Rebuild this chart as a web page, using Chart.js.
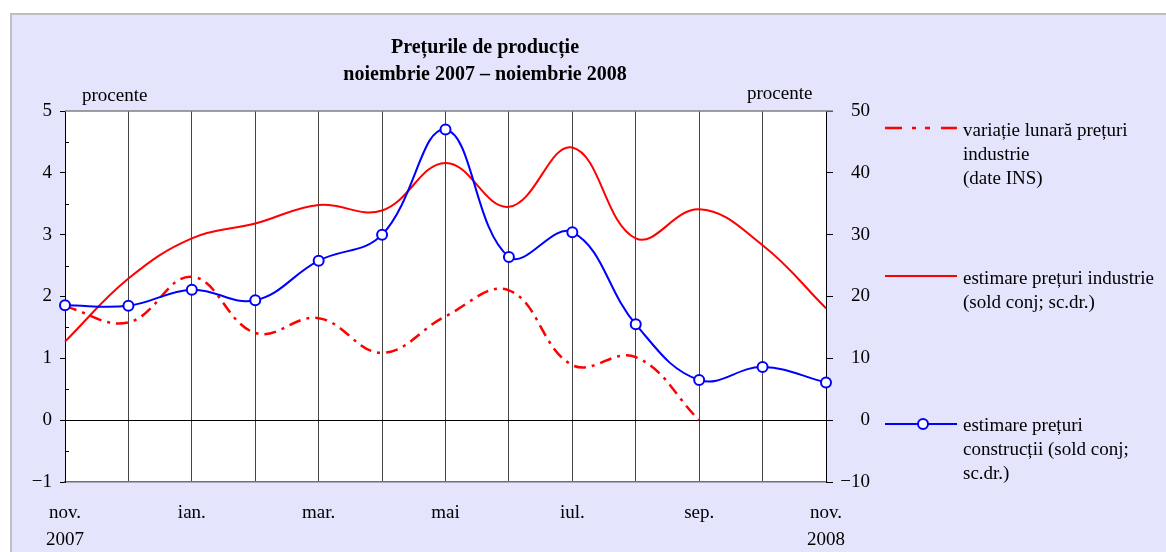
<!DOCTYPE html>
<html>
<head>
<meta charset="utf-8">
<script src="https://cdn.jsdelivr.net/npm/chart.js@4.4.0/dist/chart.umd.min.js"></script>
<style>
body { margin:0; width:1166px; height:552px; overflow:hidden; background:#fff; font-family:'Liberation Serif', 'Times New Roman', serif; }
#panel { position:absolute; left:10px; top:13px; right:0; bottom:0; background:#E4E4FC; border-left:2px solid #BEBEBE; border-top:2px solid #BEBEBE; }
#chart-box { position:absolute; left:0; top:0; width:1166px; height:552px; }
.txt { position:absolute; color:#000; font-size:19px; white-space:nowrap; }
#title { left:285px; width:400px; top:33px; text-align:center; font-weight:bold; font-size:20px; line-height:27px; }
.leg { left:963px; line-height:24px; }
.sample { position:absolute; left:885px; width:72px; height:14px; }
</style>
</head>
<body>
<div id="panel"></div>
<div id="chart-box"><canvas id="prices-chart" width="1166" height="552"></canvas></div>

<div class="txt" id="title">Prețurile de producție<br>noiembrie 2007 – noiembrie 2008</div>
<div class="txt" style="left:82px; top:84px;">procente</div>
<div class="txt" style="left:747px; top:82px;">procente</div>

<svg class="sample" style="top:121px;" viewBox="0 0 72 14"><line x1="0" y1="7" x2="72" y2="7" stroke="#FF0000" stroke-width="2.5" stroke-dasharray="17 10 4 9 5 11 16"/></svg>
<div class="txt leg" style="top:118px;">variație lunară prețuri<br>industrie<br>(date INS)</div>

<svg class="sample" style="top:269px;" viewBox="0 0 72 14"><line x1="0" y1="7" x2="72" y2="7" stroke="#FF0000" stroke-width="2"/></svg>
<div class="txt leg" style="top:266px;">estimare prețuri industrie<br>(sold conj; sc.dr.)</div>

<svg class="sample" style="top:417px;" viewBox="0 0 72 14"><line x1="0" y1="7" x2="72" y2="7" stroke="#0000FF" stroke-width="2"/><circle cx="38" cy="7" r="5" fill="#fff" stroke="#0000FF" stroke-width="2"/></svg>
<div class="txt leg" style="top:413px;">estimare prețuri<br>construcții (sold conj;<br>sc.dr.)</div>

<script>
const FONT = "'Liberation Serif', 'Times New Roman', serif";

// luni: noiembrie 2007 - noiembrie 2008
const months = ['nov. 2007', 'dec.', 'ian.', 'feb.', 'mar.', 'apr.', 'mai', 'iun.', 'iul.', 'aug.', 'sep.', 'oct.', 'nov. 2008'];
const xTickLabels = [['nov.', '2007'], '', 'ian.', '', 'mar.', '', 'mai', '', 'iul.', '', 'sep.', '', ['nov.', '2008']];

// procente (scala stanga)
const monthlyIndustry = [1.84, 1.58, 2.32, 1.41, 1.65, 1.09, 1.68, 2.10, 0.89, 1.02, 0.0, null, null];
// sold conjunctural (scala dreapta)
const industryBalance = [12.7, 22.9, 29.4, 31.8, 34.8, 33.9, 41.6, 34.5, 44.1, 29.4, 34.1, 28.3, 18.1];
const constructionBalance = [18.6, 18.5, 21.1, 19.4, 25.8, 30.0, 47.0, 26.4, 30.4, 15.5, 6.5, 8.6, 6.1];

function fmtTick(v) {
    if (!Number.isInteger(v)) return '';
    return v < 0 ? '\u2212' + Math.abs(v) : String(v);
}

// white plot area, grey top edge, inward minor ticks on the left axis
const frame = {
    id: 'frame',
    beforeDraw(chart) {
        const { ctx, chartArea: a } = chart;
        ctx.save();
        ctx.fillStyle = '#fff';
        ctx.fillRect(a.left, a.top, a.right - a.left, a.bottom - a.top);
        ctx.restore();
    },
    afterDraw(chart) {
        const { ctx, chartArea: a } = chart;
        const y = chart.scales.y;
        ctx.save();
        ctx.strokeStyle = '#808080';
        ctx.lineWidth = 1.5;
        ctx.beginPath();
        ctx.moveTo(a.left, a.top);
        ctx.lineTo(a.right + 7, a.top);
        ctx.stroke();
        ctx.strokeStyle = '#000';
        ctx.lineWidth = 1;
        y.ticks.forEach(t => {
            if (Number.isInteger(t.value)) return;
            const py = Math.round(y.getPixelForValue(t.value)) + 0.5;
            ctx.beginPath();
            ctx.moveTo(a.left, py);
            ctx.lineTo(a.left + 4, py);
            ctx.stroke();
        });
        ctx.restore();
    }
};

document.addEventListener('DOMContentLoaded', () => {
    const ctx = document.getElementById('prices-chart').getContext('2d');
    new Chart(ctx, {
        type: 'line',
        data: {
            labels: months,
            datasets: [
                {
                    label: 'estimare prețuri construcții (sold conj; sc.dr.)',
                    data: constructionBalance,
                    yAxisID: 'y1',
                    borderColor: '#0000FF',
                    borderWidth: 2,
                    tension: 0.4,
                    pointRadius: 5,
                    pointBorderWidth: 2,
                    pointBackgroundColor: '#fff',
                    pointBorderColor: '#0000FF',
                    clip: false,
                    order: 1
                },
                {
                    label: 'estimare prețuri industrie (sold conj; sc.dr.)',
                    data: industryBalance,
                    yAxisID: 'y1',
                    borderColor: '#FF0000',
                    borderWidth: 2,
                    tension: 0.4,
                    pointRadius: 0,
                    order: 2
                },
                {
                    label: 'variație lunară prețuri industrie (date INS)',
                    data: monthlyIndustry,
                    yAxisID: 'y',
                    borderColor: '#FF0000',
                    borderWidth: 2.5,
                    borderDash: [12, 6, 3, 6],
                    tension: 0.4,
                    pointRadius: 0,
                    spanGaps: false,
                    order: 3
                }
            ]
        },
        options: {
            responsive: false,
            animation: false,
            layout: { padding: { left: 0, top: 111, right: 296, bottom: 0 }, autoPadding: false },
            plugins: { legend: { display: false }, tooltip: { enabled: false } },
            scales: {
                x: {
                    offset: false,
                    grid: { color: '#444', lineWidth: 1, drawTicks: false },
                    border: { color: '#707070', width: 1.5 },
                    ticks: {
                        autoSkip: false, maxRotation: 0, padding: 18, color: '#000',
                        font: { family: FONT, size: 19, lineHeight: 1.4 },
                        callback: (v, i) => xTickLabels[i]
                    },
                    afterFit: s => { s.height = 70; }
                },
                y: {
                    position: 'left',
                    min: -1, max: 5,
                    ticks: {
                        stepSize: 0.5, autoSkip: false, padding: 8, color: '#000',
                        font: { family: FONT, size: 19 },
                        callback: fmtTick
                    },
                    grid: {
                        color: c => c.tick && c.tick.value === 0 ? '#000' : 'rgba(0,0,0,0)',
                        tickColor: c => c.tick && Number.isInteger(c.tick.value) ? '#000' : 'rgba(0,0,0,0)',
                        tickLength: 5
                    },
                    border: { color: '#000', width: 1 },
                    afterFit: s => { s.width = 65; }
                },
                y1: {
                    position: 'right',
                    min: -10, max: 50,
                    ticks: {
                        stepSize: 10, padding: 8, color: '#000', crossAlign: 'far',
                        font: { family: FONT, size: 19 },
                        callback: fmtTick
                    },
                    grid: { drawOnChartArea: false, tickColor: '#000', tickLength: 7 },
                    border: { color: '#000', width: 1 },
                    afterFit: s => { s.width = 44; }
                }
            }
        },
        plugins: [frame]
    });
});
</script>
</body>
</html>
